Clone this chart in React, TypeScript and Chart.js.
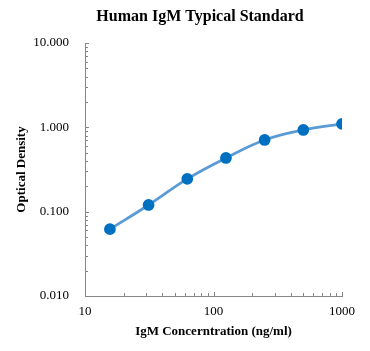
import React, { useEffect, useRef } from "react";
import { Chart, registerables } from "chart.js";

Chart.register(...registerables);

const concentrations = [15.625, 31.25, 62.5, 125, 250, 500, 1000];
const odValues = [0.062, 0.12, 0.245, 0.433, 0.708, 0.93, 1.1];
const xMajorTicks = [10, 100, 1000];
const yMajorTicks = [0.01, 0.1, 1, 10];
const titleText = "Human IgM Typical Standard";
const xTitle = "IgM Concerntration (ng/ml)";
const yTitle = "Optical Density";

const AXIS_COLOR = "#868686";
const FONT = "'Liberation Serif', 'Times New Roman', serif";

const innerTicks = {
  id: "innerTicks",
  afterDraw(chart: any) {
    const ctx = chart.ctx;
    const { left, bottom } = chart.chartArea;
    const xs = chart.scales.x;
    const ys = chart.scales.y;
    ctx.save();
    ctx.strokeStyle = AXIS_COLOR;
    ctx.lineWidth = 1;
    const decades = (min: number, max: number) => {
      const vals: { v: number; major: boolean }[] = [];
      for (let p = Math.round(Math.log10(min)); p <= Math.round(Math.log10(max)); p++) {
        const base = Math.pow(10, p);
        for (let m = 1; m <= 9; m++) {
          const v = base * m;
          if (v >= min * 0.999 && v <= max * 1.001) vals.push({ v, major: m === 1 });
        }
      }
      return vals;
    };
    ctx.beginPath();
    for (const t of decades(xs.min, xs.max)) {
      const px = Math.round(xs.getPixelForValue(t.v)) + 0.5;
      ctx.moveTo(px, bottom);
      ctx.lineTo(px, bottom - (t.major ? 4 : 3));
    }
    for (const t of decades(ys.min, ys.max)) {
      const py = Math.round(ys.getPixelForValue(t.v)) + 0.5;
      ctx.moveTo(left, py);
      ctx.lineTo(left + (t.major ? 4 : 3), py);
    }
    ctx.stroke();
    ctx.restore();
  },
};

const customTitle = {
  id: "customTitle",
  afterDraw(chart: any) {
    const ctx = chart.ctx;
    ctx.save();
    ctx.fillStyle = "#000";
    ctx.font = `bold 16px ${FONT}`;
    ctx.textAlign = "center";
    ctx.textBaseline = "middle";
    ctx.fillText(titleText, 200, 17);
    ctx.restore();
  },
};

export default function App() {
  const ref = useRef<HTMLCanvasElement | null>(null);
  useEffect(() => {
    if (!ref.current) return;
    const chart = new Chart(ref.current, {
      type: "line",
      data: {
        datasets: [
          {
            data: concentrations.map((x, i) => ({ x, y: odValues[i] })),
            borderColor: "#5b9bd5",
            borderWidth: 2.75,
            backgroundColor: "#0070c0",
            pointBackgroundColor: "#0070c0",
            pointBorderColor: "#0070c0",
            pointRadius: 4.5,
            tension: 0.4,
            fill: false,
          },
        ],
      },
      options: {
        animation: false,
        responsive: false,
        maintainAspectRatio: false,
        layout: { padding: { left: 0, right: 28, top: 43, bottom: 0 } },
        plugins: { legend: { display: false }, tooltip: { enabled: false }, title: { display: false } },
        scales: {
          x: {
            type: "logarithmic",
            min: 10,
            max: 1000,
            grid: { display: false, drawTicks: false },
            border: { display: true, color: AXIS_COLOR, width: 1 },
            afterBuildTicks: (s: any) => {
              s.ticks = xMajorTicks.map((v) => ({ value: v, major: true }));
            },
            ticks: {
              autoSkip: false,
              maxRotation: 0,
              padding: 8,
              color: "#000",
              font: { family: FONT, size: 13 },
              callback: (v: any) => String(v),
            },
            title: {
              display: true,
              text: xTitle,
              color: "#000",
              font: { family: FONT, size: 13, weight: "bold" },
              padding: { top: 4, bottom: 12 },
            },
            afterFit: (s: any) => {
              s.height = 55;
            },
          },
          y: {
            type: "logarithmic",
            min: 0.01,
            max: 10,
            grid: { display: false, drawTicks: false },
            border: { display: true, color: AXIS_COLOR, width: 1 },
            afterBuildTicks: (s: any) => {
              s.ticks = yMajorTicks.map((v) => ({ value: v, major: true }));
            },
            ticks: {
              autoSkip: false,
              padding: 16,
              color: "#000",
              font: { family: FONT, size: 13 },
              callback: (v: any) => Number(v).toFixed(3),
            },
            title: {
              display: true,
              text: yTitle,
              color: "#000",
              font: { family: FONT, size: 13, weight: "bold" },
              padding: { top: 14, bottom: 0 },
            },
            afterFit: (s: any) => {
              s.width = 85;
            },
          },
        },
      },
      plugins: [innerTicks, customTitle],
    });
    return () => chart.destroy();
  }, []);
  return (
    <div style={{ position: "absolute", left: 0, top: 0, width: 370, height: 351, background: "#fff" }}>
      <canvas ref={ref} width={370} height={351} style={{ width: 370, height: 351 }} />
    </div>
  );
}
